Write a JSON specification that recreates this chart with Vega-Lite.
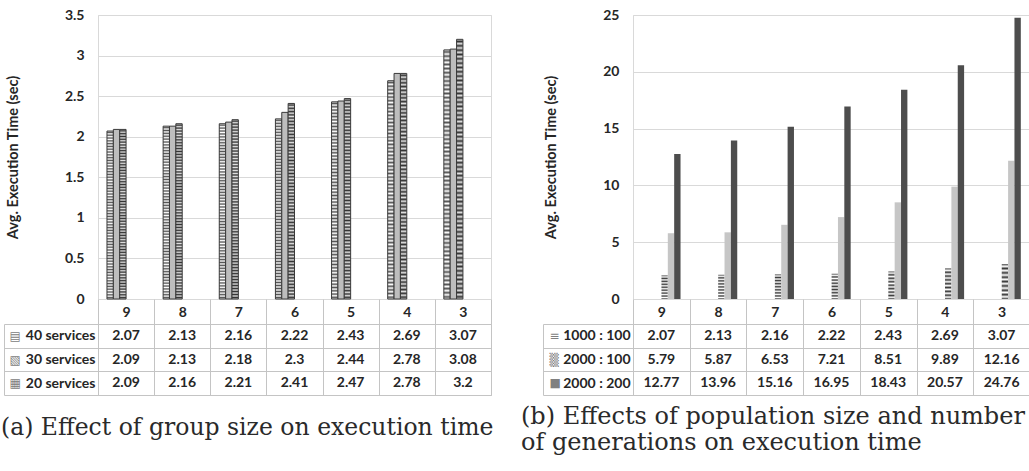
{
  "$schema": "https://vega.github.io/schema/vega-lite/v6.json",
  "background": "white",
  "padding": {"left": 0, "top": 7, "right": 0, "bottom": 0},
  "bounds": "flush",
  "align": "each",
  "columns": 2,
  "spacing": {"row": 25, "column": 142},
  "config": {
    "font": "Lato",
    "view": {"stroke": "#d9d9d9"},
    "axis": {"labelFont": "Lato", "titleFont": "Lato", "labelColor": "#262626", "titleColor": "#262626"}
  },
  "datasets": {
    "groupSize": [
      {"group": "9", "series": "40 services", "time": 2.07},
      {"group": "8", "series": "40 services", "time": 2.13},
      {"group": "7", "series": "40 services", "time": 2.16},
      {"group": "6", "series": "40 services", "time": 2.22},
      {"group": "5", "series": "40 services", "time": 2.43},
      {"group": "4", "series": "40 services", "time": 2.69},
      {"group": "3", "series": "40 services", "time": 3.07},
      {"group": "9", "series": "30 services", "time": 2.09},
      {"group": "8", "series": "30 services", "time": 2.13},
      {"group": "7", "series": "30 services", "time": 2.18},
      {"group": "6", "series": "30 services", "time": 2.3},
      {"group": "5", "series": "30 services", "time": 2.44},
      {"group": "4", "series": "30 services", "time": 2.78},
      {"group": "3", "series": "30 services", "time": 3.08},
      {"group": "9", "series": "20 services", "time": 2.09},
      {"group": "8", "series": "20 services", "time": 2.16},
      {"group": "7", "series": "20 services", "time": 2.21},
      {"group": "6", "series": "20 services", "time": 2.41},
      {"group": "5", "series": "20 services", "time": 2.47},
      {"group": "4", "series": "20 services", "time": 2.78},
      {"group": "3", "series": "20 services", "time": 3.2}
    ],
    "populationGen": [
      {"group": "9", "series": "1000 : 100", "time": 2.07},
      {"group": "8", "series": "1000 : 100", "time": 2.13},
      {"group": "7", "series": "1000 : 100", "time": 2.16},
      {"group": "6", "series": "1000 : 100", "time": 2.22},
      {"group": "5", "series": "1000 : 100", "time": 2.43},
      {"group": "4", "series": "1000 : 100", "time": 2.69},
      {"group": "3", "series": "1000 : 100", "time": 3.07},
      {"group": "9", "series": "2000 : 100", "time": 5.79},
      {"group": "8", "series": "2000 : 100", "time": 5.87},
      {"group": "7", "series": "2000 : 100", "time": 6.53},
      {"group": "6", "series": "2000 : 100", "time": 7.21},
      {"group": "5", "series": "2000 : 100", "time": 8.51},
      {"group": "4", "series": "2000 : 100", "time": 9.89},
      {"group": "3", "series": "2000 : 100", "time": 12.16},
      {"group": "9", "series": "2000 : 200", "time": 12.77},
      {"group": "8", "series": "2000 : 200", "time": 13.96},
      {"group": "7", "series": "2000 : 200", "time": 15.16},
      {"group": "6", "series": "2000 : 200", "time": 16.95},
      {"group": "5", "series": "2000 : 200", "time": 18.43},
      {"group": "4", "series": "2000 : 200", "time": 20.57},
      {"group": "3", "series": "2000 : 200", "time": 24.76}
    ]
  },
  "concat": [
    {
      "data": {"name": "groupSize"},
      "width": 393,
      "height": 284,
      "view": {"stroke": "#d9d9d9"},
      "mark": {"type": "bar", "stroke": "#3a3a3a", "strokeWidth": 1},
      "encoding": {
        "x": {"field": "group", "type": "nominal", "scale": {"domain": ["9", "8", "7", "6", "5", "4", "3"], "paddingInner": 0.32, "paddingOuter": 0.16}, "axis": null},
        "xOffset": {"field": "series", "type": "nominal", "scale": {"domain": ["40 services", "30 services", "20 services"]}},
        "y": {
          "field": "time", "type": "quantitative",
          "scale": {"domain": [0, 3.5], "nice": false},
          "axis": {"title": "Avg. Execution Time (sec)", "values": [0, 0.5, 1, 1.5, 2, 2.5, 3, 3.5], "format": "~g", "ticks": false, "domain": false, "grid": true, "gridColor": "#d9d9d9", "labelPadding": 14, "labelFontSize": 14, "labelFontWeight": "bold", "titleFontSize": 14.5, "titleFontWeight": "bold", "titlePadding": 44}
        },
        "fill": {
          "condition": [
            {"test": "datum.series === '40 services'", "value": {"gradient": "linear", "x1": 0, "y1": 0, "x2": 0, "y2": 1, "stops": [
              {"offset": 0, "color": "#fff"}, {"offset": 0.0083, "color": "#555"}, {"offset": 0.0167, "color": "#fff"}, {"offset": 0.025, "color": "#555"}, {"offset": 0.0333, "color": "#fff"}, {"offset": 0.0417, "color": "#555"}, {"offset": 0.05, "color": "#fff"}, {"offset": 0.0583, "color": "#555"}, {"offset": 0.0667, "color": "#fff"}, {"offset": 0.075, "color": "#555"}, {"offset": 0.0833, "color": "#fff"}, {"offset": 0.0917, "color": "#555"},
              {"offset": 0.1, "color": "#fff"}, {"offset": 0.1083, "color": "#555"}, {"offset": 0.1167, "color": "#fff"}, {"offset": 0.125, "color": "#555"}, {"offset": 0.1333, "color": "#fff"}, {"offset": 0.1417, "color": "#555"}, {"offset": 0.15, "color": "#fff"}, {"offset": 0.1583, "color": "#555"}, {"offset": 0.1667, "color": "#fff"}, {"offset": 0.175, "color": "#555"}, {"offset": 0.1833, "color": "#fff"}, {"offset": 0.1917, "color": "#555"},
              {"offset": 0.2, "color": "#fff"}, {"offset": 0.2083, "color": "#555"}, {"offset": 0.2167, "color": "#fff"}, {"offset": 0.225, "color": "#555"}, {"offset": 0.2333, "color": "#fff"}, {"offset": 0.2417, "color": "#555"}, {"offset": 0.25, "color": "#fff"}, {"offset": 0.2583, "color": "#555"}, {"offset": 0.2667, "color": "#fff"}, {"offset": 0.275, "color": "#555"}, {"offset": 0.2833, "color": "#fff"}, {"offset": 0.2917, "color": "#555"},
              {"offset": 0.3, "color": "#fff"}, {"offset": 0.3083, "color": "#555"}, {"offset": 0.3167, "color": "#fff"}, {"offset": 0.325, "color": "#555"}, {"offset": 0.3333, "color": "#fff"}, {"offset": 0.3417, "color": "#555"}, {"offset": 0.35, "color": "#fff"}, {"offset": 0.3583, "color": "#555"}, {"offset": 0.3667, "color": "#fff"}, {"offset": 0.375, "color": "#555"}, {"offset": 0.3833, "color": "#fff"}, {"offset": 0.3917, "color": "#555"},
              {"offset": 0.4, "color": "#fff"}, {"offset": 0.4083, "color": "#555"}, {"offset": 0.4167, "color": "#fff"}, {"offset": 0.425, "color": "#555"}, {"offset": 0.4333, "color": "#fff"}, {"offset": 0.4417, "color": "#555"}, {"offset": 0.45, "color": "#fff"}, {"offset": 0.4583, "color": "#555"}, {"offset": 0.4667, "color": "#fff"}, {"offset": 0.475, "color": "#555"}, {"offset": 0.4833, "color": "#fff"}, {"offset": 0.4917, "color": "#555"},
              {"offset": 0.5, "color": "#fff"}, {"offset": 0.5083, "color": "#555"}, {"offset": 0.5167, "color": "#fff"}, {"offset": 0.525, "color": "#555"}, {"offset": 0.5333, "color": "#fff"}, {"offset": 0.5417, "color": "#555"}, {"offset": 0.55, "color": "#fff"}, {"offset": 0.5583, "color": "#555"}, {"offset": 0.5667, "color": "#fff"}, {"offset": 0.575, "color": "#555"}, {"offset": 0.5833, "color": "#fff"}, {"offset": 0.5917, "color": "#555"},
              {"offset": 0.6, "color": "#fff"}, {"offset": 0.6083, "color": "#555"}, {"offset": 0.6167, "color": "#fff"}, {"offset": 0.625, "color": "#555"}, {"offset": 0.6333, "color": "#fff"}, {"offset": 0.6417, "color": "#555"}, {"offset": 0.65, "color": "#fff"}, {"offset": 0.6583, "color": "#555"}, {"offset": 0.6667, "color": "#fff"}, {"offset": 0.675, "color": "#555"}, {"offset": 0.6833, "color": "#fff"}, {"offset": 0.6917, "color": "#555"},
              {"offset": 0.7, "color": "#fff"}, {"offset": 0.7083, "color": "#555"}, {"offset": 0.7167, "color": "#fff"}, {"offset": 0.725, "color": "#555"}, {"offset": 0.7333, "color": "#fff"}, {"offset": 0.7417, "color": "#555"}, {"offset": 0.75, "color": "#fff"}, {"offset": 0.7583, "color": "#555"}, {"offset": 0.7667, "color": "#fff"}, {"offset": 0.775, "color": "#555"}, {"offset": 0.7833, "color": "#fff"}, {"offset": 0.7917, "color": "#555"},
              {"offset": 0.8, "color": "#fff"}, {"offset": 0.8083, "color": "#555"}, {"offset": 0.8167, "color": "#fff"}, {"offset": 0.825, "color": "#555"}, {"offset": 0.8333, "color": "#fff"}, {"offset": 0.8417, "color": "#555"}, {"offset": 0.85, "color": "#fff"}, {"offset": 0.8583, "color": "#555"}, {"offset": 0.8667, "color": "#fff"}, {"offset": 0.875, "color": "#555"}, {"offset": 0.8833, "color": "#fff"}, {"offset": 0.8917, "color": "#555"},
              {"offset": 0.9, "color": "#fff"}, {"offset": 0.9083, "color": "#555"}, {"offset": 0.9167, "color": "#fff"}, {"offset": 0.925, "color": "#555"}, {"offset": 0.9333, "color": "#fff"}, {"offset": 0.9417, "color": "#555"}, {"offset": 0.95, "color": "#fff"}, {"offset": 0.9583, "color": "#555"}, {"offset": 0.9667, "color": "#fff"}, {"offset": 0.975, "color": "#555"}, {"offset": 0.9833, "color": "#fff"}, {"offset": 0.9917, "color": "#555"},
              {"offset": 1, "color": "#fff"}
            ]}},
            {"test": "datum.series === '30 services'", "value": "#bdbdbd"}
          ],
          "value": {"gradient": "linear", "x1": 0, "y1": 0, "x2": 0, "y2": 1, "stops": [
            {"offset": 0, "color": "#e0e0e0"}, {"offset": 0.0083, "color": "#333"}, {"offset": 0.0167, "color": "#e0e0e0"}, {"offset": 0.025, "color": "#333"}, {"offset": 0.0333, "color": "#e0e0e0"}, {"offset": 0.0417, "color": "#333"}, {"offset": 0.05, "color": "#e0e0e0"}, {"offset": 0.0583, "color": "#333"}, {"offset": 0.0667, "color": "#e0e0e0"}, {"offset": 0.075, "color": "#333"}, {"offset": 0.0833, "color": "#e0e0e0"}, {"offset": 0.0917, "color": "#333"},
            {"offset": 0.1, "color": "#e0e0e0"}, {"offset": 0.1083, "color": "#333"}, {"offset": 0.1167, "color": "#e0e0e0"}, {"offset": 0.125, "color": "#333"}, {"offset": 0.1333, "color": "#e0e0e0"}, {"offset": 0.1417, "color": "#333"}, {"offset": 0.15, "color": "#e0e0e0"}, {"offset": 0.1583, "color": "#333"}, {"offset": 0.1667, "color": "#e0e0e0"}, {"offset": 0.175, "color": "#333"}, {"offset": 0.1833, "color": "#e0e0e0"}, {"offset": 0.1917, "color": "#333"},
            {"offset": 0.2, "color": "#e0e0e0"}, {"offset": 0.2083, "color": "#333"}, {"offset": 0.2167, "color": "#e0e0e0"}, {"offset": 0.225, "color": "#333"}, {"offset": 0.2333, "color": "#e0e0e0"}, {"offset": 0.2417, "color": "#333"}, {"offset": 0.25, "color": "#e0e0e0"}, {"offset": 0.2583, "color": "#333"}, {"offset": 0.2667, "color": "#e0e0e0"}, {"offset": 0.275, "color": "#333"}, {"offset": 0.2833, "color": "#e0e0e0"}, {"offset": 0.2917, "color": "#333"},
            {"offset": 0.3, "color": "#e0e0e0"}, {"offset": 0.3083, "color": "#333"}, {"offset": 0.3167, "color": "#e0e0e0"}, {"offset": 0.325, "color": "#333"}, {"offset": 0.3333, "color": "#e0e0e0"}, {"offset": 0.3417, "color": "#333"}, {"offset": 0.35, "color": "#e0e0e0"}, {"offset": 0.3583, "color": "#333"}, {"offset": 0.3667, "color": "#e0e0e0"}, {"offset": 0.375, "color": "#333"}, {"offset": 0.3833, "color": "#e0e0e0"}, {"offset": 0.3917, "color": "#333"},
            {"offset": 0.4, "color": "#e0e0e0"}, {"offset": 0.4083, "color": "#333"}, {"offset": 0.4167, "color": "#e0e0e0"}, {"offset": 0.425, "color": "#333"}, {"offset": 0.4333, "color": "#e0e0e0"}, {"offset": 0.4417, "color": "#333"}, {"offset": 0.45, "color": "#e0e0e0"}, {"offset": 0.4583, "color": "#333"}, {"offset": 0.4667, "color": "#e0e0e0"}, {"offset": 0.475, "color": "#333"}, {"offset": 0.4833, "color": "#e0e0e0"}, {"offset": 0.4917, "color": "#333"},
            {"offset": 0.5, "color": "#e0e0e0"}, {"offset": 0.5083, "color": "#333"}, {"offset": 0.5167, "color": "#e0e0e0"}, {"offset": 0.525, "color": "#333"}, {"offset": 0.5333, "color": "#e0e0e0"}, {"offset": 0.5417, "color": "#333"}, {"offset": 0.55, "color": "#e0e0e0"}, {"offset": 0.5583, "color": "#333"}, {"offset": 0.5667, "color": "#e0e0e0"}, {"offset": 0.575, "color": "#333"}, {"offset": 0.5833, "color": "#e0e0e0"}, {"offset": 0.5917, "color": "#333"},
            {"offset": 0.6, "color": "#e0e0e0"}, {"offset": 0.6083, "color": "#333"}, {"offset": 0.6167, "color": "#e0e0e0"}, {"offset": 0.625, "color": "#333"}, {"offset": 0.6333, "color": "#e0e0e0"}, {"offset": 0.6417, "color": "#333"}, {"offset": 0.65, "color": "#e0e0e0"}, {"offset": 0.6583, "color": "#333"}, {"offset": 0.6667, "color": "#e0e0e0"}, {"offset": 0.675, "color": "#333"}, {"offset": 0.6833, "color": "#e0e0e0"}, {"offset": 0.6917, "color": "#333"},
            {"offset": 0.7, "color": "#e0e0e0"}, {"offset": 0.7083, "color": "#333"}, {"offset": 0.7167, "color": "#e0e0e0"}, {"offset": 0.725, "color": "#333"}, {"offset": 0.7333, "color": "#e0e0e0"}, {"offset": 0.7417, "color": "#333"}, {"offset": 0.75, "color": "#e0e0e0"}, {"offset": 0.7583, "color": "#333"}, {"offset": 0.7667, "color": "#e0e0e0"}, {"offset": 0.775, "color": "#333"}, {"offset": 0.7833, "color": "#e0e0e0"}, {"offset": 0.7917, "color": "#333"},
            {"offset": 0.8, "color": "#e0e0e0"}, {"offset": 0.8083, "color": "#333"}, {"offset": 0.8167, "color": "#e0e0e0"}, {"offset": 0.825, "color": "#333"}, {"offset": 0.8333, "color": "#e0e0e0"}, {"offset": 0.8417, "color": "#333"}, {"offset": 0.85, "color": "#e0e0e0"}, {"offset": 0.8583, "color": "#333"}, {"offset": 0.8667, "color": "#e0e0e0"}, {"offset": 0.875, "color": "#333"}, {"offset": 0.8833, "color": "#e0e0e0"}, {"offset": 0.8917, "color": "#333"},
            {"offset": 0.9, "color": "#e0e0e0"}, {"offset": 0.9083, "color": "#333"}, {"offset": 0.9167, "color": "#e0e0e0"}, {"offset": 0.925, "color": "#333"}, {"offset": 0.9333, "color": "#e0e0e0"}, {"offset": 0.9417, "color": "#333"}, {"offset": 0.95, "color": "#e0e0e0"}, {"offset": 0.9583, "color": "#333"}, {"offset": 0.9667, "color": "#e0e0e0"}, {"offset": 0.975, "color": "#333"}, {"offset": 0.9833, "color": "#e0e0e0"}, {"offset": 0.9917, "color": "#333"},
            {"offset": 1, "color": "#e0e0e0"}
          ]}
        }
      }
    },
    {
      "data": {"name": "populationGen"},
      "width": 397,
      "height": 284,
      "view": {"stroke": "#d9d9d9"},
      "mark": {"type": "bar"},
      "encoding": {
        "x": {"field": "group", "type": "nominal", "scale": {"domain": ["9", "8", "7", "6", "5", "4", "3"], "paddingInner": 0.33, "paddingOuter": 0.165}, "axis": null},
        "xOffset": {"field": "series", "type": "nominal", "scale": {"domain": ["1000 : 100", "2000 : 100", "2000 : 200"]}},
        "y": {
          "field": "time", "type": "quantitative",
          "scale": {"domain": [0, 25], "nice": false},
          "axis": {"title": "Avg. Execution Time (sec)", "values": [0, 5, 10, 15, 20, 25], "format": "~g", "ticks": false, "domain": false, "grid": true, "gridColor": "#d9d9d9", "labelPadding": 14, "labelFontSize": 14, "labelFontWeight": "bold", "titleFontSize": 14.5, "titleFontWeight": "bold", "titlePadding": 44}
        },
        "fill": {
          "condition": [
            {"test": "datum.series === '1000 : 100'", "value": {"gradient": "linear", "x1": 0, "y1": 0, "x2": 0, "y2": 1, "stops": [
              {"offset": 0, "color": "#3a3a3a"}, {"offset": 0.0625, "color": "#fff"}, {"offset": 0.125, "color": "#3a3a3a"}, {"offset": 0.1875, "color": "#fff"},
              {"offset": 0.25, "color": "#3a3a3a"}, {"offset": 0.3125, "color": "#fff"}, {"offset": 0.375, "color": "#3a3a3a"}, {"offset": 0.4375, "color": "#fff"},
              {"offset": 0.5, "color": "#3a3a3a"}, {"offset": 0.5625, "color": "#fff"}, {"offset": 0.625, "color": "#3a3a3a"}, {"offset": 0.6875, "color": "#fff"},
              {"offset": 0.75, "color": "#3a3a3a"}, {"offset": 0.8125, "color": "#fff"}, {"offset": 0.875, "color": "#3a3a3a"}, {"offset": 0.9375, "color": "#fff"},
              {"offset": 1, "color": "#3a3a3a"}
            ]}},
            {"test": "datum.series === '2000 : 100'", "value": "#c6c6c6"}
          ],
          "value": "#4d4d4d"
        }
      }
    },
    {
      "data": {"name": "groupSize"},
      "width": 393,
      "height": 71,
      "view": {"stroke": "#c4c4c4"},
      "title": {"text": "(a) Effect of group size on execution time", "orient": "bottom", "anchor": "start", "frame": "group", "dx": -97, "offset": 20, "font": "DejaVu Serif", "fontSize": 23.5, "fontWeight": "normal", "color": "#2a2a2a"},
      "resolve": {"axis": {"y": "independent"}},
      "layer": [
        {
          "mark": {"type": "text", "font": "Lato", "fontSize": 14, "fontWeight": "bold", "color": "#262626"},
          "encoding": {
            "x": {"field": "group", "type": "nominal", "scale": {"type": "band", "domain": ["9", "8", "7", "6", "5", "4", "3"], "paddingInner": 0, "paddingOuter": 0},
              "axis": {"orient": "top", "title": null, "labelAngle": 0, "tickBand": "extent", "tickSize": 25, "tickColor": "#c4c4c4", "domainColor": "#c4c4c4", "grid": true, "gridColor": "#c4c4c4", "labelPadding": -13, "labelBaseline": "middle", "labelFontSize": 14, "labelFontWeight": "bold", "labelColor": "#262626"}},
            "y": {"field": "series", "type": "nominal", "scale": {"type": "band", "domain": ["40 services", "30 services", "20 services"], "paddingInner": 0, "paddingOuter": 0},
              "axis": {"orient": "left", "title": null, "tickBand": "extent", "tickSize": 94, "tickColor": "#c4c4c4", "domainColor": "#c4c4c4", "grid": true, "gridColor": "#c4c4c4", "labelPadding": -91, "labelFontSize": 14, "labelFontWeight": "bold", "labelColor": "#262626"}},
            "text": {"field": "time", "type": "quantitative", "format": "~g"}
          }
        },
        {
          "mark": {"type": "text", "text": ""},
          "encoding": {
            "y": {"field": "series", "type": "nominal",
              "axis": {"orient": "left", "offset": 94, "title": null, "ticks": false, "grid": false, "domainColor": "#c4c4c4", "labelPadding": -5, "labelAlign": "left", "labelFont": "DejaVu Sans", "labelFontSize": 12, "labelColor": "#808080", "labelExpr": "datum.value === '40 services' ? '▤' : datum.value === '30 services' ? '▧' : '▦'"}}
          }
        }
      ]
    },
    {
      "data": {"name": "populationGen"},
      "width": 397,
      "height": 71,
      "view": {"stroke": "#c4c4c4"},
      "title": {"text": ["(b) Effects of population size and number", "of generations on execution time"], "orient": "bottom", "anchor": "start", "frame": "group", "dx": -112, "offset": 9, "lineHeight": 26.5, "font": "DejaVu Serif", "fontSize": 24, "fontWeight": "normal", "color": "#2a2a2a"},
      "resolve": {"axis": {"y": "independent"}},
      "layer": [
        {
          "mark": {"type": "text", "font": "Lato", "fontSize": 14, "fontWeight": "bold", "color": "#262626"},
          "encoding": {
            "x": {"field": "group", "type": "nominal", "scale": {"type": "band", "domain": ["9", "8", "7", "6", "5", "4", "3"], "paddingInner": 0, "paddingOuter": 0},
              "axis": {"orient": "top", "title": null, "labelAngle": 0, "tickBand": "extent", "tickSize": 25, "tickColor": "#c4c4c4", "domainColor": "#c4c4c4", "grid": true, "gridColor": "#c4c4c4", "labelPadding": -13, "labelBaseline": "middle", "labelFontSize": 14, "labelFontWeight": "bold", "labelColor": "#262626"}},
            "y": {"field": "series", "type": "nominal", "scale": {"type": "band", "domain": ["1000 : 100", "2000 : 100", "2000 : 200"], "paddingInner": 0, "paddingOuter": 0},
              "axis": {"orient": "left", "title": null, "tickBand": "extent", "tickSize": 90, "tickColor": "#c4c4c4", "domainColor": "#c4c4c4", "grid": true, "gridColor": "#c4c4c4", "labelPadding": -87, "labelFontSize": 14, "labelFontWeight": "bold", "labelColor": "#262626"}},
            "text": {"field": "time", "type": "quantitative", "format": "~g"}
          }
        },
        {
          "mark": {"type": "text", "text": ""},
          "encoding": {
            "y": {"field": "series", "type": "nominal",
              "axis": {"orient": "left", "offset": 90, "title": null, "ticks": false, "grid": false, "domainColor": "#c4c4c4", "labelPadding": -6, "labelAlign": "left", "labelFont": "DejaVu Sans", "labelFontSize": 12, "labelColor": "#808080", "labelExpr": "datum.value === '1000 : 100' ? '≡' : datum.value === '2000 : 100' ? '▒' : '■'"}}
          }
        }
      ]
    }
  ]
}
